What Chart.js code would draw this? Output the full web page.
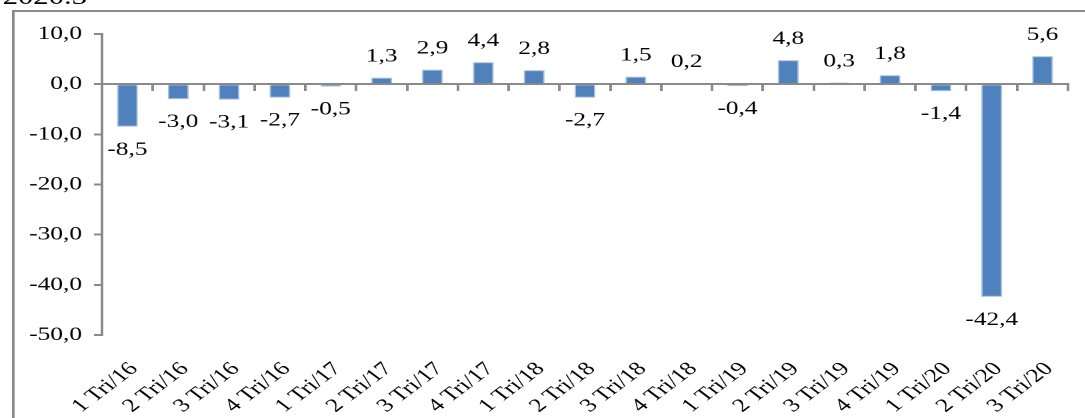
<!DOCTYPE html>
<html>
<head>
<meta charset="utf-8">
<script src="https://cdn.jsdelivr.net/npm/chart.js@4/dist/chart.umd.min.js"></script>
<style>
  html, body { margin: 0; padding: 0; background: #fff; overflow: hidden; }
  body { width: 1085px; height: 418px; position: relative; }
  /* the reference picture is stretched sideways, so the whole drawing is too */
  #wrap { position: absolute; left: 0; top: 0; width: 814px; height: 418px;
          transform: scaleX(1.3333); transform-origin: 0 0; }
  #top { position: absolute; left: 2px; top: -16.5px; font: 23px "Liberation Serif", serif;
         line-height: normal; color: #000; white-space: nowrap; }
  #frame { position: absolute; left: 8.5px; top: 10px; width: 900px; height: 500px;
           border: 2px solid #8a8a8a; }
  #graph { position: absolute; left: 0; top: 0; }
</style>
</head>
<body>
<div id="wrap">
  <div id="top">2020.3</div>
  <div id="frame"></div>
  <canvas id="graph" width="814" height="418"></canvas>
</div>
<script>
// quý / năm
var categories = ['1 Tri/16', '2 Tri/16', '3 Tri/16', '4 Tri/16',
                  '1 Tri/17', '2 Tri/17', '3 Tri/17', '4 Tri/17',
                  '1 Tri/18', '2 Tri/18', '3 Tri/18', '4 Tri/18',
                  '1 Tri/19', '2 Tri/19', '3 Tri/19', '4 Tri/19',
                  '1 Tri/20', '2 Tri/20', '3 Tri/20'];
var values = [-8.5, -3.0, -3.1, -2.7, -0.5, 1.3, 2.9, 4.4, 2.8, -2.7,
              1.5, 0.2, -0.4, 4.8, 0.3, 1.8, -1.4, -42.4, 5.6];
var yTicks = [-50, -40, -30, -20, -10, 0, 10];

var fmt = function(v){ return v.toFixed(1).replace('.', ','); };
var FONT = '"Liberation Serif", "Times New Roman", serif';
var GRAY = '#8a8a8a';

// nhãn số liệu trên / dưới cột
var barLabels = {
  id: 'barLabels',
  afterDatasetsDraw: function(chart){
    var ctx = chart.ctx;
    var meta = chart.getDatasetMeta(0);
    ctx.save();
    ctx.font = '19px ' + FONT;
    ctx.fillStyle = '#000';
    ctx.textAlign = 'center';
    ctx.textBaseline = 'middle';
    meta.data.forEach(function(bar, i){
      var v = values[i];
      var y = v >= 0 ? bar.y - 21 : bar.y + 23;
      ctx.fillText(fmt(v), bar.x, y);
    });
    ctx.restore();
  }
};

var drawGraph = function(){
  var ctx = document.getElementById('graph').getContext('2d');
  var config = {
    type: 'bar',
    data: {
      labels: categories,
      datasets: [{
        data: values,
        xAxisID: 'x',
        backgroundColor: '#4f81bd',
        borderColor: '#a9c1df',
        borderWidth: 1,
        barPercentage: 0.82,
        categoryPercentage: 0.5
      }]
    },
    options: {
      responsive: false,
      devicePixelRatio: 2,
      animation: false,
      layout: { padding: { left: 0, top: 34, right: 13, bottom: 0 } },
      plugins: { legend: { display: false }, tooltip: { enabled: false } },
      scales: {
        // trục hoành tại 0, chỉ có vạch chia
        x: {
          type: 'category',
          position: { y: 0 },
          offset: true,
          grid: { offset: true, drawOnChartArea: false, drawTicks: true, tickLength: 6,
                  color: GRAY, lineWidth: 2 },
          border: { color: GRAY, width: 2 },
          ticks: { display: false }
        },
        // nhãn quý ở dưới
        xl: {
          type: 'category',
          labels: categories,
          position: 'bottom',
          offset: true,
          grid: { display: false },
          border: { display: false },
          ticks: { autoSkip: false, maxRotation: 45, minRotation: 45, padding: 15,
                   labelOffset: 5, color: '#000', font: { family: FONT, size: 19 } },
          afterFit: function(scale){ scale.height = 83; }
        },
        y: {
          min: -50, max: 10,
          afterBuildTicks: function(scale){
            scale.ticks = yTicks.map(function(v){ return { value: v }; });
          },
          grid: { drawOnChartArea: false, drawTicks: true, tickLength: 6, color: GRAY, lineWidth: 2 },
          border: { color: GRAY, width: 2 },
          ticks: { padding: 9, color: '#000', font: { family: FONT, size: 19 },
                   callback: function(v){ return fmt(v); } },
          afterFit: function(scale){ scale.width = 76.5; }
        }
      }
    },
    plugins: [barLabels]
  };
  new Chart(ctx, config);
};

window.onload = function(){ drawGraph(); };
</script>
</body>
</html>
